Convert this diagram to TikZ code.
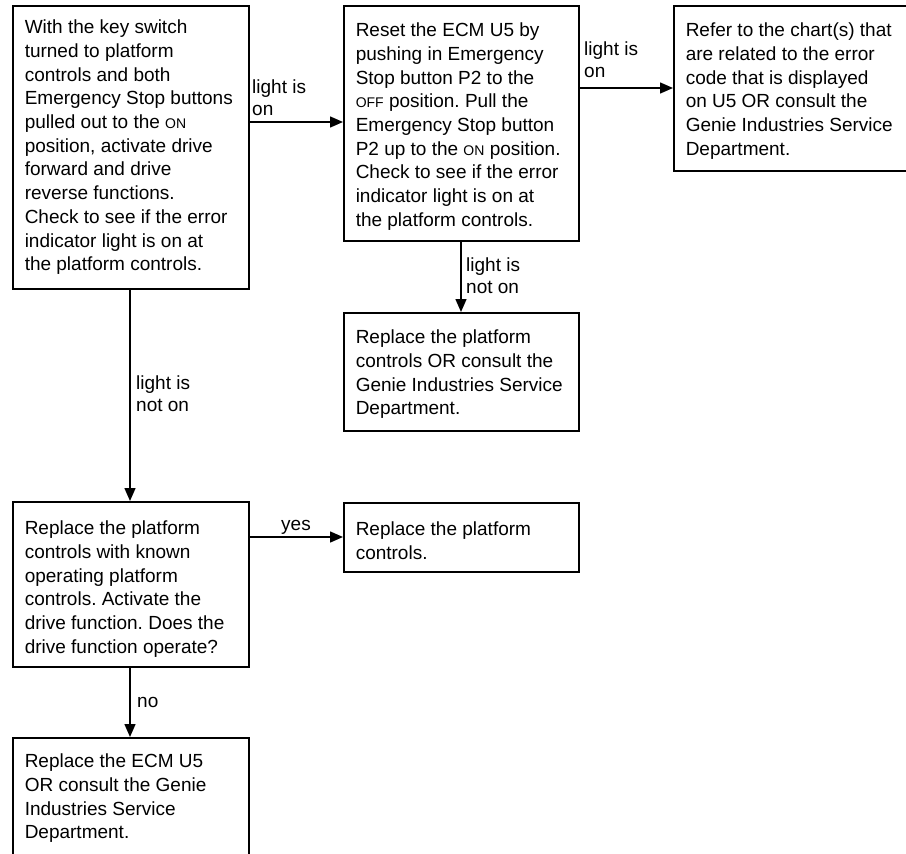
\documentclass[tikz,border=0pt]{standalone}
\usepackage{fontspec}
\setmainfont{Liberation Sans}
\usetikzlibrary{arrows.meta}
\newcommand{\smcap}[1]{{\fontsize{14}{14}\selectfont #1}}
\newcommand{\boxtext}[4]{\parbox[c][#2][t]{#1}{\raggedright\frenchspacing\rule{0pt}{#3}#4}}
\newcommand{\lbltext}[1]{\parbox[t]{90pt}{\raggedright #1}}
\tikzset{
  flowbox/.style={draw, line width=1.5pt, inner xsep=12pt, inner ysep=0pt, anchor=north west,
    font=\fontsize{19}{23.7}\selectfont},
  lbl/.style={inner sep=0pt, anchor=base west, font=\fontsize{19}{22.5}\selectfont},
  arr/.style={line width=1.5pt, -{Triangle[length=13pt,width=11pt]}},
}
\begin{document}
\frenchspacing
\begin{tikzpicture}[x=1pt, y=-1pt]
\path[use as bounding box, clip] (0,0) rectangle (906,854);
\fill[white] (0,0) rectangle (906,854);

\node[flowbox] (b1) at (12,5) {\boxtext{212pt}{283pt}{28pt}{With the key switch\\
turned to platform\\
controls and both\\
Emergency Stop buttons\\
pulled out to the \smcap{ON}\\
position, activate drive\\
forward and drive\\
reverse functions.\\
Check to see if the error\\
indicator light is on at\\
the platform controls.}};

\node[flowbox] (b2) at (343,5) {\boxtext{211pt}{235pt}{31pt}{Reset the ECM U5 by\\
pushing in Emergency\\
Stop button P2 to the\\
\smcap{OFF} position. Pull the\\
Emergency Stop button\\
P2 up to the \smcap{ON} position.\\
Check to see if the error\\
indicator light is on at\\
the platform controls.}};

\node[flowbox] (b3) at (673,5) {\boxtext{221pt}{165pt}{31pt}{Refer to the chart(s) that\\
are related to the error\\
code that is displayed\\
on U5 OR consult the\\
Genie Industries Service\\
Department.}};

\node[flowbox] (b4) at (343,312) {\boxtext{211pt}{118pt}{31pt}{Replace the platform\\
controls OR consult the\\
Genie Industries Service\\
Department.}};

\node[flowbox] (b5) at (12,501) {\boxtext{212pt}{165pt}{33pt}{Replace the platform\\
controls with known\\
operating platform\\
controls. Activate the\\
drive function. Does the\\
drive function operate?}};

\node[flowbox] (b6) at (343,502) {\boxtext{211pt}{69pt}{33pt}{Replace the platform\\
controls.}};

\node[flowbox] (b7) at (12,737) {\boxtext{212pt}{140pt}{30pt}{Replace the ECM U5\\
OR consult the Genie\\
Industries Service\\
Department.}};

\draw[arr] (b1.east |- 0,122) -- (b2.west |- 0,122);
\draw[arr] (b2.east |- 0,88) -- (b3.west |- 0,88);
\draw[arr] (b2.south -| 461,0) -- (b4.north -| 461,0);
\draw[arr] (b1.south -| 130,0) -- (b5.north -| 130,0);
\draw[arr] (b5.east |- 0,537) -- (b6.west |- 0,537);
\draw[arr] (b5.south -| 130,0) -- (b7.north -| 130,0);

\node[lbl] (l1) at (252,93) {\lbltext{light is\\on}};
\node[lbl] (l2) at (584,55) {\lbltext{light is\\on}};
\node[lbl] (l3) at (466,271) {\lbltext{light is\\not on}};
\node[lbl] (l4) at (136,389) {\lbltext{light is\\not on}};
\node[lbl] (l5) at (281,530) {yes};
\node[lbl] (l6) at (137,707) {no};
\end{tikzpicture}
\end{document}
